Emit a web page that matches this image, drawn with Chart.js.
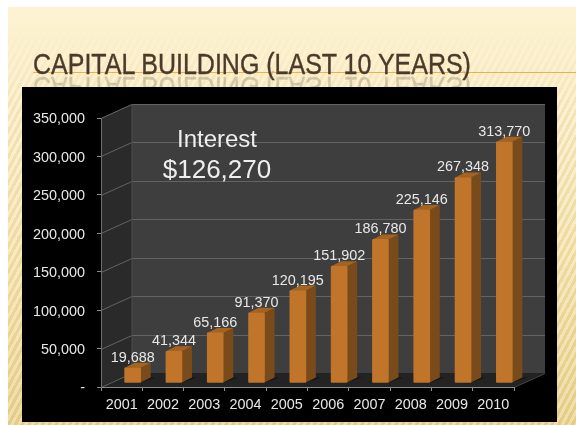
<!DOCTYPE html>
<html>
<head>
<meta charset="utf-8">
<title>Capital Building</title>
<script src="https://cdn.jsdelivr.net/npm/chart.js@4"></script>
<style>
  html, body { margin: 0; padding: 0; width: 576px; height: 425px; overflow: hidden; background: #fff; font-family: "Liberation Sans", Arial, sans-serif; }
  #slide { position: absolute; left: 8px; top: 7px; width: 568px; height: 418px; overflow: hidden;
    background: linear-gradient(180deg, #fdf3d3 0%, #fbeec6 20%, #f4e2a9 60%, #e9d28b 100%); }
  #stripes { position: absolute; left: 0; top: 0; width: 100%; height: 100%;
    background: repeating-linear-gradient(118deg, rgba(255,255,255,.28) 0 3px, rgba(190,150,70,.10) 3px 6px);
    -webkit-mask-image: linear-gradient(180deg, transparent 5%, #000 25%); mask-image: linear-gradient(180deg, transparent 5%, #000 25%); }
  .title { position: absolute; left: 33px; top: 47px; font: 400 30px "Liberation Sans", sans-serif; color: #4b3a2a; white-space: nowrap; transform-origin: 0 0; transform: scaleX(.833); -webkit-text-stroke: .4px #4b3a2a; }
  #reflect { top: 104px; transform: scale(.833, -1); opacity: .22; -webkit-mask-image: linear-gradient(0deg, #000 60%, transparent 100%); mask-image: linear-gradient(0deg, #000 60%, transparent 100%); }
  #rule { position: absolute; left: 33px; right: 0; top: 72px; height: 1px; background: #eeb04f; }
  #panel { position: absolute; left: 22px; top: 87px; width: 535px; height: 335px; background: #000; }
  #chart { position: absolute; left: 0; top: 0; }
  #note { position: absolute; left: 117px; top: 124px; width: 200px; text-align: center; color: #eee; font-size: 24px; line-height: 30px; }
  #note b { font-weight: 400; font-size: 26px; }
</style>
</head>
<body>
<div id="slide"><div id="stripes"></div></div>
<div class="title" id="reflect" aria-hidden="true">CAPITAL BUILDING (LAST 10 YEARS)</div>
<div id="rule"></div>
<div class="title">CAPITAL BUILDING (LAST 10 YEARS)</div>
<div id="panel"></div>
<canvas id="chart" width="576" height="425"></canvas>
<div id="note">Interest<br><b>$126,270</b></div>
<script>
const years = ['2001', '2002', '2003', '2004', '2005', '2006', '2007', '2008', '2009', '2010'];
const capital = [19688, 41344, 65166, 91370, 120195, 151902, 186780, 225146, 267348, 313770];

const textColor = '#e8e8e8';
const fontSpec = { family: '"Liberation Sans", Arial, sans-serif', size: 14.4 };

// how far the back wall sits behind the axes, and where the bars stand in between
const wallDepth = { x: 31, y: -14 };
const barShift = { x: 11, y: -4 };
const barDepth = { x: 10, y: -5 };

function poly(ctx, pts, color) {
    ctx.fillStyle = color;
    ctx.beginPath();
    pts.forEach((p, i) => i ? ctx.lineTo(p[0], p[1]) : ctx.moveTo(p[0], p[1]));
    ctx.closePath();
    ctx.fill();
}

// fake 3D box: walls and floor behind the native scales
const walls = {
    id: 'walls',
    beforeDraw(chart) {
        const { ctx, chartArea: a, scales } = chart;
        const dx = wallDepth.x, dy = wallDepth.y;
        poly(ctx, [[a.left + dx, a.top + dy], [a.right + dx, a.top + dy], [a.right + dx, a.bottom + dy], [a.left + dx, a.bottom + dy]], '#3e3e3e');
        poly(ctx, [[a.left, a.top], [a.left + dx, a.top + dy], [a.left + dx, a.bottom + dy], [a.left, a.bottom]], '#2a2a2a');
        poly(ctx, [[a.left, a.bottom], [a.left + dx, a.bottom + dy], [a.right + dx, a.bottom + dy], [a.right, a.bottom]], '#232323');

        ctx.strokeStyle = '#636363';
        ctx.lineWidth = 1;
        scales.y.ticks.forEach(t => {
            const y = Math.round(scales.y.getPixelForValue(t.value)) + 0.5;
            ctx.beginPath();
            ctx.moveTo(a.left, y);
            ctx.lineTo(a.left + dx, y + dy);
            if (t.value > 0) ctx.lineTo(a.right + dx, y + dy);
            ctx.stroke();
        });
        ctx.strokeStyle = '#4c4c4c';
        ctx.beginPath();
        ctx.moveTo(a.left + dx, a.top + dy);
        ctx.lineTo(a.left + dx, a.bottom + dy);
        ctx.moveTo(a.right, a.bottom + 0.5);
        ctx.lineTo(a.right + dx, a.bottom + dy + 0.5);
        ctx.stroke();
    }
};

// side and top of each bar, then shift the library's own bars onto the floor
const bars3d = {
    id: 'bars3d',
    beforeDatasetsDraw(chart) {
        const ctx = chart.ctx;
        const dx = barDepth.x, dy = barDepth.y;
        chart.getDatasetMeta(0).data.forEach(el => {
            const l = el.x - el.width / 2 + barShift.x;
            const r = el.x + el.width / 2 + barShift.x;
            const top = el.y + barShift.y, base = el.base + barShift.y;
            poly(ctx, [[l + 2, base], [r, base], [r + dx + 5, base + dy], [l + dx + 7, base + dy]], '#141414');
            poly(ctx, [[r, top], [r + dx, top + dy], [r + dx, base + dy], [r, base]], '#7a4b1a');
            poly(ctx, [[l, top], [l + dx, top + dy], [r + dx, top + dy], [r, top]], '#a5631f');
        });
        ctx.save();
        ctx.translate(barShift.x, barShift.y);
    },
    afterDatasetsDraw(chart) {
        const ctx = chart.ctx;
        ctx.restore();
        ctx.fillStyle = textColor;
        ctx.font = fontSpec.size + 'px ' + fontSpec.family;
        ctx.textAlign = 'center';
        ctx.textBaseline = 'middle';
        chart.getDatasetMeta(0).data.forEach((el, i) => {
            ctx.fillText(capital[i].toLocaleString('en-US'), el.x + barShift.x, el.y + barShift.y - 10);
        });
    }
};

const ctx = document.getElementById('chart').getContext('2d');
new Chart(ctx, {
    type: 'bar',
    data: {
        labels: years,
        datasets: [{ data: capital, backgroundColor: '#c1752a', barThickness: 16, borderRadius: 1, borderSkipped: false }]
    },
    options: {
        responsive: false,
        animation: false,
        layout: { padding: { left: 20, right: 62, top: 118, bottom: 0 } },
        plugins: { legend: { display: false }, tooltip: { enabled: false } },
        scales: {
            x: {
                afterFit(scale) { scale.height = 38; },
                grid: { drawOnChartArea: false, color: '#8c8c8c', tickLength: 4 },
                border: { color: '#8c8c8c' },
                ticks: { color: textColor, font: fontSpec, padding: 5, maxRotation: 0 }
            },
            y: {
                min: 0,
                max: 350000,
                afterFit(scale) { scale.width = 81; },
                grid: { drawOnChartArea: false, color: '#8c8c8c', tickLength: 4 },
                border: { color: '#6e6e6e' },
                ticks: {
                    stepSize: 50000,
                    color: textColor,
                    font: fontSpec,
                    padding: 12,
                    labelOffset: 1.5,
                    callback: v => v === 0 ? '-' : v.toLocaleString('en-US')
                }
            }
        }
    },
    plugins: [walls, bars3d]
});
</script>
</body>
</html>
